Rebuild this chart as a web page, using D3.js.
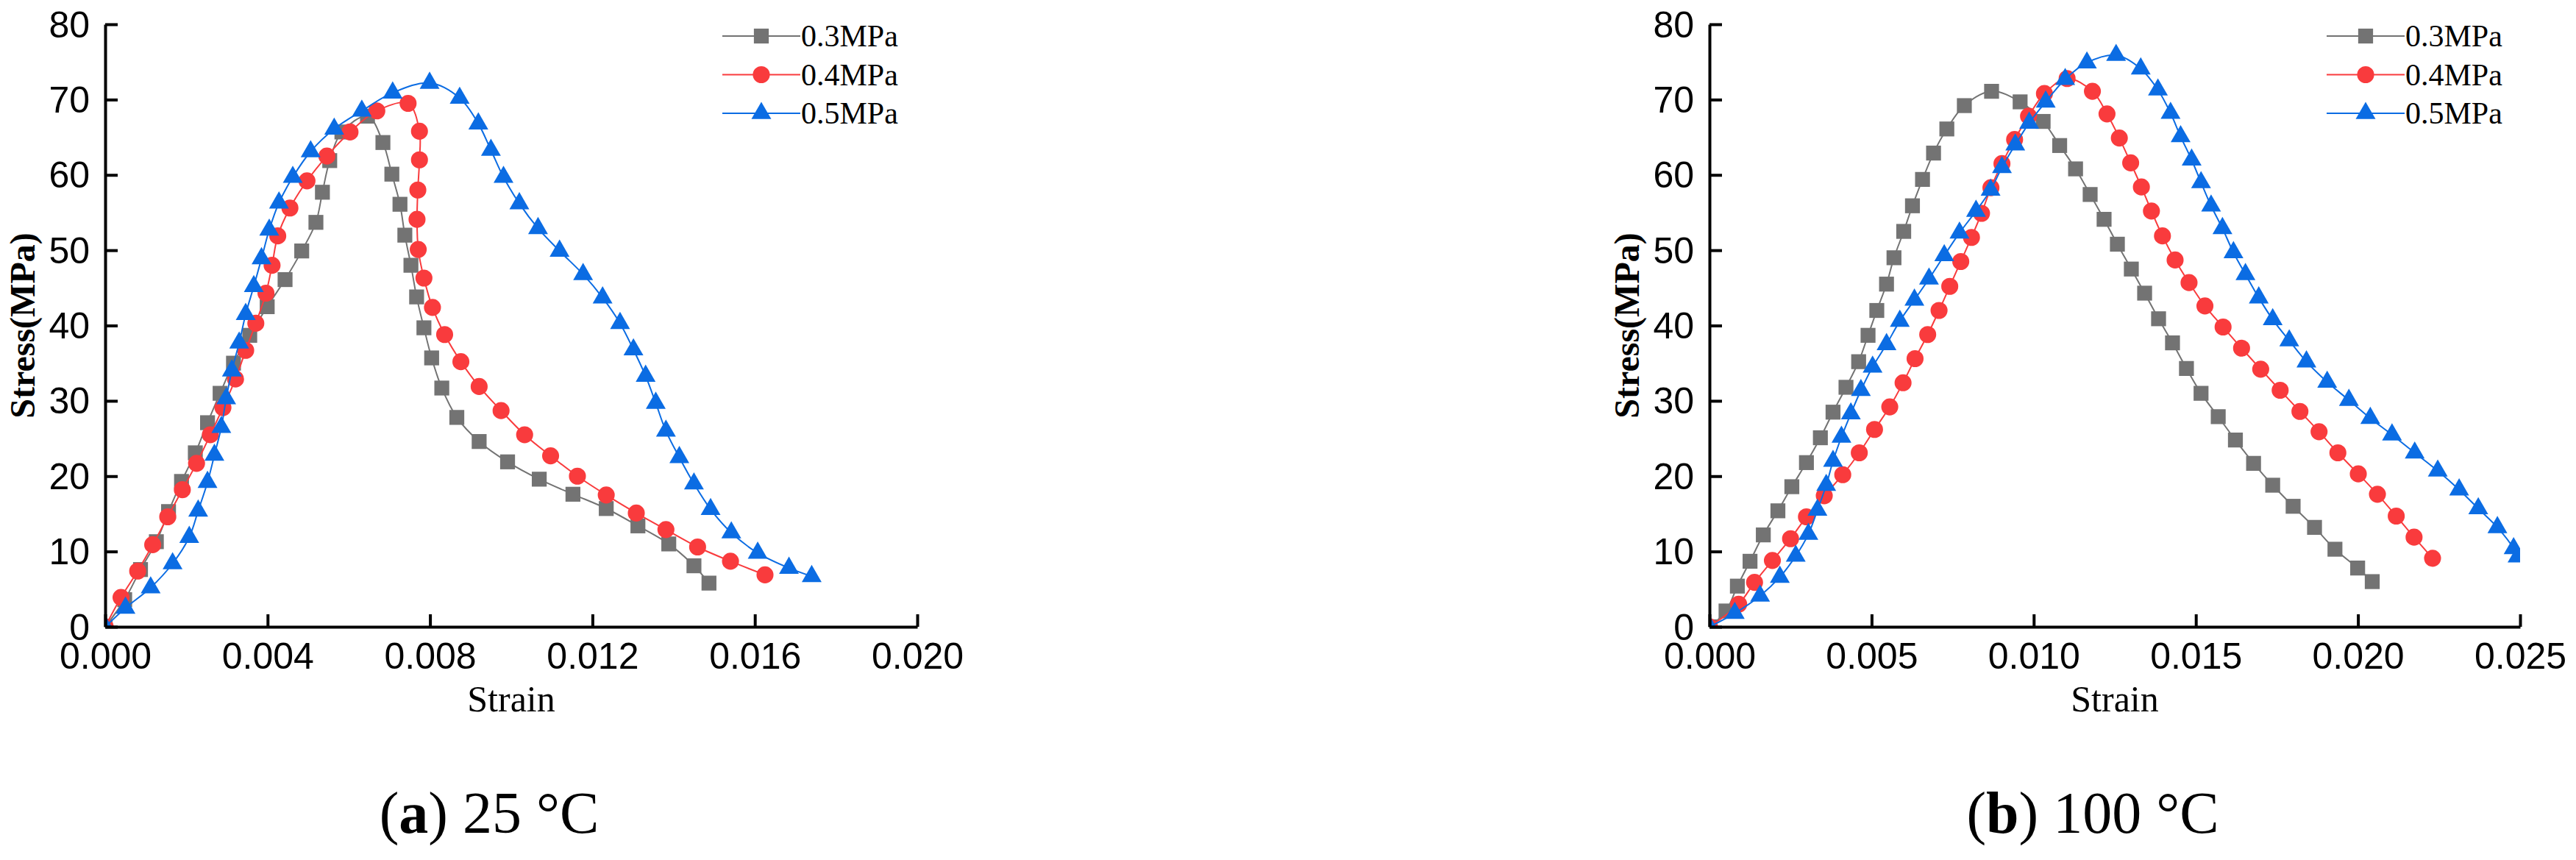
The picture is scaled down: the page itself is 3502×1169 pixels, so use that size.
<!DOCTYPE html>
<html>
<head>
<meta charset="utf-8">
<script src="https://cdn.jsdelivr.net/npm/d3@7"></script>
<style>
  html, body { margin: 0; padding: 0; background: #fff; }
  svg { display: block; font-family: "Liberation Serif", "Times New Roman", serif; }
</style>
</head>
<body>
<svg id="chart" width="3502" height="1169"></svg>
<script>
// Series names and colours (legend order).
var seriesNames = ['0.3MPa', '0.4MPa', '0.5MPa'];
var seriesColors = ['#737373', '#f93b3d', '#0b6ce3'];
var seriesShapes = [d3.symbolSquare, d3.symbolCircle, d3.symbolTriangle];
var markerSizes = [410, 420, 315];

// (a) 25 °C — [strain, stress(MPa)]
var a25_03 = [[0, 0], [0.00048, 3.6], [0.00087, 7.6], [0.00126, 11.3], [0.00156, 15.3], [0.00188, 19.3],
  [0.00222, 23.1], [0.00252, 27.1], [0.00283, 31.0], [0.00316, 35.0], [0.00356, 38.7], [0.00399, 42.5],
  [0.00443, 46.1], [0.00484, 49.9], [0.00519, 53.7], [0.00535, 57.7], [0.00553, 61.9], [0.00583, 65.7],
  [0.00646, 67.8], [0.00684, 64.3], [0.00706, 60.1], [0.00726, 56.1], [0.00738, 52.0], [0.00753, 48.0],
  [0.00767, 43.8], [0.00785, 39.7], [0.00804, 35.7], [0.00829, 31.7], [0.00866, 27.8], [0.00921, 24.6],
  [0.00991, 21.9], [0.01069, 19.6], [0.01152, 17.6], [0.01234, 15.7], [0.01312, 13.4], [0.01388, 11.0],
  [0.0145, 8.1], [0.01487, 5.8]];
var a25_04 = [[0, 0], [0.00039, 3.9], [0.0008, 7.4], [0.00117, 10.9], [0.00154, 14.6], [0.0019, 18.2],
  [0.00225, 21.7], [0.00259, 25.5], [0.0029, 29.1], [0.00321, 32.9], [0.00346, 36.7], [0.00371, 40.3],
  [0.00396, 44.3], [0.00411, 48.0], [0.00425, 51.9], [0.00455, 55.6], [0.00497, 59.2], [0.00546, 62.5],
  [0.00603, 65.7], [0.00669, 68.5], [0.00746, 69.5], [0.00774, 65.8], [0.00774, 62.0], [0.0077, 58.0],
  [0.00768, 54.1], [0.00771, 50.1], [0.00785, 46.3], [0.00806, 42.4], [0.00836, 38.8], [0.00876, 35.2],
  [0.00921, 31.9], [0.00975, 28.7], [0.01033, 25.5], [0.01097, 22.7], [0.01163, 20.0], [0.01234, 17.5],
  [0.01308, 15.1], [0.01381, 12.9], [0.01459, 10.6], [0.0154, 8.7], [0.01625, 6.9]];
var a25_05 = [[0, 0], [0.0005, 2.5], [0.00112, 5.2], [0.00166, 8.4], [0.00207, 11.9], [0.00229, 15.4],
  [0.00252, 19.2], [0.00269, 22.8], [0.00286, 26.5], [0.00298, 30.3], [0.00312, 34.0], [0.0033, 37.7],
  [0.00346, 41.5], [0.00366, 45.2], [0.00385, 48.9], [0.00404, 52.7], [0.00428, 56.3], [0.00462, 59.7],
  [0.00506, 63.1], [0.00564, 66.1], [0.00632, 68.5], [0.00708, 70.9], [0.00799, 72.2], [0.00873, 70.2],
  [0.00919, 66.8], [0.0095, 63.3], [0.00981, 59.7], [0.0102, 56.2], [0.01066, 52.9], [0.01119, 49.9],
  [0.01177, 46.8], [0.01225, 43.7], [0.01268, 40.3], [0.01301, 36.8], [0.01331, 33.3], [0.01356, 29.7],
  [0.01381, 26.0], [0.01414, 22.5], [0.0145, 19.0], [0.01491, 15.6], [0.01542, 12.5], [0.01607, 9.8],
  [0.01684, 7.8], [0.0174, 6.7]];

// (b) 100 °C
var b100_03 = [[0, 0], [0.00051, 2.1], [0.00086, 5.4], [0.00125, 8.7], [0.00166, 12.2], [0.00211, 15.4],
  [0.00254, 18.6], [0.00299, 21.8], [0.00342, 25.1], [0.00381, 28.5], [0.00421, 31.8], [0.0046, 35.2],
  [0.00489, 38.7], [0.00516, 42.0], [0.00546, 45.5], [0.00569, 49.0], [0.00599, 52.5], [0.00626, 55.9],
  [0.00657, 59.4], [0.00691, 62.9], [0.00732, 66.1], [0.00786, 69.2], [0.0087, 71.1], [0.00958, 69.7],
  [0.01029, 67.1], [0.0108, 63.9], [0.01129, 60.8], [0.01174, 57.4], [0.01217, 54.1], [0.01258, 50.8],
  [0.01301, 47.5], [0.01342, 44.3], [0.01385, 40.9], [0.01428, 37.7], [0.01471, 34.3], [0.01516, 31.0],
  [0.01569, 27.9], [0.01622, 24.8], [0.01678, 21.7], [0.01737, 18.8], [0.018, 16.0], [0.01866, 13.2],
  [0.01929, 10.3], [0.01999, 7.8], [0.02044, 6.0]];
var b100_04 = [[0, 0], [0.0009, 3.0], [0.00139, 5.9], [0.00194, 8.8], [0.0025, 11.7], [0.00299, 14.6],
  [0.00354, 17.4], [0.00411, 20.2], [0.00462, 23.1], [0.00509, 26.2], [0.00556, 29.2], [0.00597, 32.4],
  [0.00634, 35.6], [0.00673, 38.8], [0.00708, 42.0], [0.00741, 45.2], [0.00775, 48.5], [0.00808, 51.7],
  [0.00839, 54.9], [0.00868, 58.3], [0.00902, 61.5], [0.00941, 64.7], [0.00984, 67.8], [0.01033, 70.8],
  [0.01103, 72.8], [0.01181, 71.1], [0.01226, 68.1], [0.01264, 64.9], [0.01299, 61.6], [0.01332, 58.4],
  [0.01363, 55.2], [0.01397, 51.9], [0.01436, 48.7], [0.01479, 45.7], [0.01528, 42.6], [0.01584, 39.8],
  [0.01641, 37.0], [0.017, 34.2], [0.0176, 31.4], [0.01821, 28.6], [0.0188, 25.9], [0.01938, 23.1],
  [0.02001, 20.3], [0.0206, 17.6], [0.02118, 14.7], [0.02173, 11.9], [0.0223, 9.1]];
var b100_05 = [[0, 0], [0.00078, 1.8], [0.00156, 4.1], [0.00217, 6.6], [0.00266, 9.4], [0.00305, 12.3],
  [0.00333, 15.5], [0.0036, 18.8], [0.00381, 22.0], [0.00407, 25.2], [0.00436, 28.3], [0.00467, 31.4],
  [0.00503, 34.5], [0.00546, 37.5], [0.00587, 40.6], [0.00632, 43.4], [0.00677, 46.2], [0.00724, 49.3],
  [0.00771, 52.3], [0.00822, 55.2], [0.00867, 58.0], [0.00902, 61.0], [0.00943, 64.0], [0.00986, 66.9],
  [0.01037, 69.7], [0.01097, 72.7], [0.01164, 74.9], [0.01254, 75.9], [0.0133, 74.1], [0.01383, 71.3],
  [0.01422, 68.2], [0.01453, 65.1], [0.01487, 62.0], [0.01516, 59.0], [0.01547, 55.9], [0.01582, 52.9],
  [0.01616, 49.7], [0.01653, 46.8], [0.01694, 43.7], [0.01737, 40.8], [0.01788, 38.0], [0.01841, 35.2],
  [0.01905, 32.5], [0.01972, 30.1], [0.02038, 27.7], [0.02105, 25.5], [0.02175, 23.1], [0.02246, 20.7],
  [0.02312, 18.2], [0.02371, 15.7], [0.0243, 13.2], [0.0248, 10.4], [0.02492, 9.3]];

// Axis ticks.
var yTicks = [0, 10, 20, 30, 40, 50, 60, 70, 80];
var yMinor = [5, 15, 25, 35, 45, 55, 65, 75];
var xTicksA = [0, 0.004, 0.008, 0.012, 0.016, 0.020];
var xMinorA = [0.002, 0.006, 0.010, 0.014, 0.018];
var xTicksB = [0, 0.005, 0.010, 0.015, 0.020, 0.025];
var xMinorB = [0.0025, 0.0075, 0.0125, 0.0175, 0.0225];

var svg = d3.select('#chart');
svg.append('rect').attr('width', 3502).attr('height', 1169).attr('fill', '#fff');

function drawPanel(opts) {
  var left = opts.left, right = opts.right, top = 33, bottom = 852;
  var x = d3.scaleLinear().domain(opts.xDomain).range([left, right]);
  var y = d3.scaleLinear().domain([0, 80]).range([bottom, top]);
  var g = svg.append('g');

  // Clip marks to the plot area.
  var clipId = 'clip-' + opts.id;
  svg.append('clipPath').attr('id', clipId)
    .append('rect')
    .attr('x', left).attr('y', top - 20)
    .attr('width', right - left).attr('height', bottom - top + 20);

  var plot = g.append('g').attr('clip-path', 'url(#' + clipId + ')');
  var line = d3.line()
    .x(d => x(d[0]))
    .y(d => y(d[1]))
    .curve(d3.curveCatmullRom.alpha(0.5));

  opts.series.forEach(function (data, i) {
    var s = plot.append('g');
    s.append('path')
      .attr('d', line(data))
      .attr('fill', 'none')
      .attr('stroke', seriesColors[i])
      .attr('stroke-width', 2);
    s.selectAll('path.pt').data(data).enter().append('path')
      .attr('class', 'pt')
      .attr('transform', d => 'translate(' + x(d[0]) + ',' + y(d[1]) + ')')
      .attr('d', d3.symbol().type(seriesShapes[i]).size(markerSizes[i]))
      .attr('fill', seriesColors[i]);
  });

  // X axis (ticks point inward).
  var xAxis = g.append('g').attr('transform', 'translate(0,' + bottom + ')');
  xAxis.call(d3.axisBottom(x).tickValues(opts.xMinor).tickSize(-9).tickSizeOuter(0).tickFormat(''));
  xAxis.call(d3.axisBottom(x).tickValues(opts.xTicks).tickSize(-17).tickSizeOuter(0)
    .tickFormat(d3.format('.3f')));
  xAxis.selectAll('text').attr('y', 57).attr('dy', null)
    .style('font-size', '50px').attr('fill', '#000');

  // Y axis.
  var yAxis = g.append('g').attr('transform', 'translate(' + left + ',0)');
  yAxis.call(d3.axisLeft(y).tickValues(yMinor).tickSize(-9).tickSizeOuter(0).tickFormat(''));
  yAxis.call(d3.axisLeft(y).tickValues(yTicks).tickSize(-17).tickSizeOuter(0));
  yAxis.selectAll('text').attr('x', -21).attr('dy', '0.34em')
    .style('font-size', '50px').attr('fill', '#000');

  [xAxis, yAxis].forEach(function (a) {
    a.selectAll('path.domain').attr('stroke', '#000').attr('stroke-width', 4);
    a.selectAll('.tick line').attr('stroke', '#000').attr('stroke-width', 4);
  });

  // Axis titles.
  g.append('text')
    .attr('x', (left + right) / 2).attr('y', 967)
    .attr('text-anchor', 'middle')
    .style('font-size', '50px')
    .text('Strain');
  g.append('text')
    .attr('transform', 'translate(' + (left - 96) + ',' + ((top + bottom) / 2) + ') rotate(-90)')
    .attr('text-anchor', 'middle')
    .style('font-size', '48px')
    .style('font-weight', 'bold')
    .text('Stress(MPa)');

  // Legend.
  var lg = g.append('g').attr('transform', 'translate(' + (left + 839) + ',0)');
  seriesNames.forEach(function (name, i) {
    var ly = 49 + i * 52.5;
    lg.append('line')
      .attr('x1', 0).attr('x2', 106).attr('y1', ly).attr('y2', ly)
      .attr('stroke', seriesColors[i]).attr('stroke-width', 2);
    lg.append('path')
      .attr('transform', 'translate(53,' + ly + ')')
      .attr('d', d3.symbol().type(seriesShapes[i]).size(markerSizes[i]))
      .attr('fill', seriesColors[i]);
    lg.append('text')
      .attr('x', 107).attr('y', ly).attr('dy', '0.34em')
      .style('font-size', '42px')
      .text(name);
  });

  // Caption.
  var cap = g.append('text')
    .attr('x', (left + right) / 2 - 30).attr('y', 1132)
    .attr('text-anchor', 'middle')
    .style('font-size', '80px');
  cap.append('tspan').text('(');
  cap.append('tspan').style('font-weight', 'bold').text(opts.letter);
  cap.append('tspan').text(') ' + opts.temp);
}

drawPanel({ id: 'a', left: 143, right: 1247, xDomain: [0, 0.020],
  xTicks: xTicksA, xMinor: xMinorA, series: [a25_03, a25_04, a25_05], letter: 'a', temp: '25 °C' });
drawPanel({ id: 'b', left: 2324, right: 3426, xDomain: [0, 0.025],
  xTicks: xTicksB, xMinor: xMinorB, series: [b100_03, b100_04, b100_05], letter: 'b', temp: '100 °C' });
</script>
</body>
</html>
